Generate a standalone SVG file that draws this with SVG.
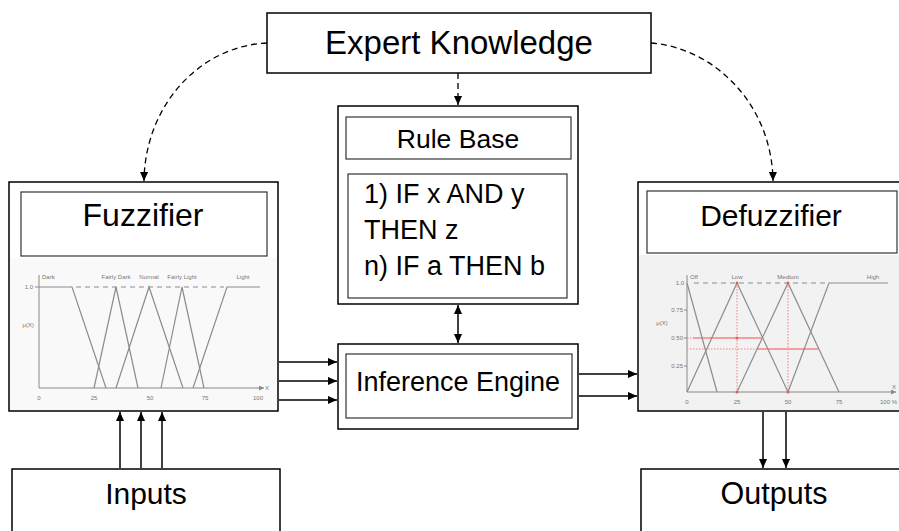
<svg xmlns="http://www.w3.org/2000/svg" width="899" height="531" viewBox="0 0 899 531">
  <defs>
    <marker id="arrow" viewBox="0 0 10 10" refX="10" refY="5" markerWidth="9" markerHeight="9" markerUnits="userSpaceOnUse" orient="auto">
      <path d="M0,0.5 L10,5 L0,9.5 z" fill="#000"/>
    </marker>
    <marker id="arrowStart" viewBox="0 0 10 10" refX="0" refY="5" markerWidth="9" markerHeight="9" markerUnits="userSpaceOnUse" orient="auto">
      <path d="M10,0.5 L0,5 L10,9.5 z" fill="#000"/>
    </marker>
    <marker id="tinyArrow" viewBox="0 0 10 10" refX="10" refY="5" markerWidth="5" markerHeight="5" markerUnits="userSpaceOnUse" orient="auto">
      <path d="M0,0 L10,5 L0,10 z" fill="#888"/>
    </marker>
  </defs>
  <style>
    .outer { fill: #fff; stroke: #000; stroke-width: 1.5; }
    .inner { fill: #fff; stroke: #333; stroke-width: 1.2; }
    .label { font-family: "Liberation Sans", Arial, sans-serif; fill: #000; }
    .conn { fill: none; stroke: #000; stroke-width: 1.5; }
    .dashed { fill: none; stroke: #000; stroke-width: 1.3; stroke-dasharray: 6 4; }
    .axis { fill: none; stroke: #888; stroke-width: 1; }
    .mf { fill: none; stroke: #8c8c8c; stroke-width: 1.2; }
    .mfdash { fill: none; stroke: #8c8c8c; stroke-width: 1.2; stroke-dasharray: 5 4; }
    .tiny { font-family: "Liberation Sans", Arial, sans-serif; font-size: 6px; fill: #777; }
    .reddot { fill: none; stroke: #f08080; stroke-width: 1; stroke-dasharray: 1.5 1.5; }
    .redsolid { fill: none; stroke: #f4a0a0; stroke-width: 2; }
  </style>

  <rect width="899" height="531" fill="#fff"/>

  <!-- Expert Knowledge -->
  <g id="expert-knowledge">
    <rect class="outer" x="267" y="13" width="384" height="60"/>
    <text class="label" x="459" y="54" font-size="33" text-anchor="middle">Expert Knowledge</text>
  </g>

  <!-- Rule Base -->
  <g id="rule-base">
    <rect class="outer" x="338" y="106" width="240" height="198"/>
    <rect class="inner" x="346" y="117" width="225" height="42"/>
    <text class="label" x="458" y="148" font-size="26.5" text-anchor="middle">Rule Base</text>
    <rect class="inner" x="348" y="174" width="219" height="124"/>
    <text class="label" x="364" y="203" font-size="27">1) IF x AND y</text>
    <text class="label" x="364" y="239" font-size="27">THEN z</text>
    <text class="label" x="364" y="275" font-size="27">n) IF a THEN b</text>
  </g>

  <!-- Inference Engine -->
  <g id="inference-engine">
    <rect class="outer" x="338" y="344" width="240" height="85"/>
    <rect class="inner" x="346" y="354" width="226" height="64"/>
    <text class="label" x="458" y="391" font-size="27" text-anchor="middle">Inference Engine</text>
  </g>

  <!-- Fuzzifier with input membership functions -->
  <g id="fuzzifier">
    <rect class="outer" x="9" y="182" width="269" height="229"/>
    <rect class="inner" x="21" y="192" width="246" height="64"/>
    <text class="label" x="143" y="226" font-size="32" text-anchor="middle">Fuzzifier</text>
    <rect x="10" y="258" width="267" height="152" fill="#f9f9f9"/>
    <g id="fuzzifier-chart">
      <line class="axis" x1="39" y1="275" x2="39" y2="388"/>
      <line class="axis" x1="39" y1="388" x2="264" y2="388" marker-end="url(#tinyArrow)"/>
      <line class="axis" x1="35" y1="287" x2="39" y2="287"/>
      <polyline class="mf" points="39,287 72,287 106,388"/>
      <polyline class="mf" points="94,388 116,287 138,388"/>
      <polyline class="mf" points="116,388 149,287 183,388"/>
      <polyline class="mf" points="161,388 182,287 204,388"/>
      <polyline class="mf" points="193,388 227,287 260,287"/>
      <line class="mfdash" x1="76" y1="287" x2="224" y2="287"/>
      <text class="tiny" x="42" y="279">Dark</text>
      <text class="tiny" x="116" y="279" text-anchor="middle">Fairly Dark</text>
      <text class="tiny" x="149" y="279" text-anchor="middle">Normal</text>
      <text class="tiny" x="182" y="279" text-anchor="middle">Fairly Light</text>
      <text class="tiny" x="243" y="279" text-anchor="middle">Light</text>
      <text class="tiny" x="33" y="289" text-anchor="end">1.0</text>
      <text class="tiny" x="34" y="327" text-anchor="end">μ(X)</text>
      <text class="tiny" x="39" y="400" text-anchor="middle">0</text>
      <text class="tiny" x="94" y="400" text-anchor="middle">25</text>
      <text class="tiny" x="150" y="400" text-anchor="middle">50</text>
      <text class="tiny" x="205" y="400" text-anchor="middle">75</text>
      <text class="tiny" x="258" y="400" text-anchor="middle">100</text>
      <text class="tiny" x="265" y="390" font-size="8">X</text>
    </g>
  </g>

  <!-- Defuzzifier with output membership functions -->
  <g id="defuzzifier">
    <rect class="outer" x="638" y="182" width="270" height="229"/>
    <rect class="inner" x="647" y="191" width="250" height="62"/>
    <text class="label" x="771" y="226" font-size="30" text-anchor="middle">Defuzzifier</text>
    <rect x="639" y="255" width="260" height="155" fill="#f2f2f2"/>
    <g id="defuzzifier-chart">
      <line class="axis" x1="687" y1="275" x2="687" y2="392"/>
      <line class="axis" x1="687" y1="392" x2="896" y2="392" marker-end="url(#tinyArrow)"/>
      <line class="axis" x1="684" y1="310" x2="687" y2="310"/>
      <line class="axis" x1="684" y1="338" x2="687" y2="338"/>
      <line class="axis" x1="684" y1="366" x2="687" y2="366"/>
      <line class="reddot" x1="737" y1="283" x2="737" y2="392"/>
      <line class="reddot" x1="788" y1="283" x2="788" y2="392"/>
      <line class="reddot" x1="687" y1="338" x2="762" y2="338"/>
      <line class="reddot" x1="687" y1="349" x2="818" y2="349"/>
      <line class="redsolid" x1="693" y1="338" x2="762" y2="338"/>
      <line class="redsolid" x1="757" y1="349" x2="818" y2="349"/>
      <polyline class="mf" points="687,283 717,392"/>
      <polyline class="mf" points="687,392 737,283 788,392"/>
      <polyline class="mf" points="737,392 788,283 839,392"/>
      <polyline class="mf" points="788,392 829,283 888,283"/>
      <line class="mfdash" x1="694" y1="283" x2="828" y2="283"/>
      <g fill="#e06060">
        <circle cx="737" cy="283" r="1.5"/>
        <circle cx="788" cy="283" r="1.5"/>
        <circle cx="737" cy="338" r="1.5"/>
        <circle cx="737" cy="392" r="1.5"/>
        <circle cx="788" cy="392" r="1.5"/>
      </g>
      <text class="tiny" x="690" y="279">Off</text>
      <text class="tiny" x="737" y="279" text-anchor="middle">Low</text>
      <text class="tiny" x="788" y="279" text-anchor="middle">Medium</text>
      <text class="tiny" x="873" y="279" text-anchor="middle">High</text>
      <text class="tiny" x="684" y="285" text-anchor="end">1.0</text>
      <text class="tiny" x="683" y="312" text-anchor="end">0.75</text>
      <text class="tiny" x="683" y="340" text-anchor="end">0.50</text>
      <text class="tiny" x="683" y="368" text-anchor="end">0.25</text>
      <text class="tiny" x="662" y="325" text-anchor="middle">μ(X)</text>
      <text class="tiny" x="687" y="404" text-anchor="middle">0</text>
      <text class="tiny" x="737" y="404" text-anchor="middle">25</text>
      <text class="tiny" x="788" y="404" text-anchor="middle">50</text>
      <text class="tiny" x="839" y="404" text-anchor="middle">75</text>
      <text class="tiny" x="897" y="404" text-anchor="end">100 %</text>
      <text class="tiny" x="892" y="389" font-size="7">X</text>
    </g>
  </g>

  <!-- Inputs -->
  <g id="inputs">
    <rect class="outer" x="12" y="469" width="268" height="80"/>
    <text class="label" x="146" y="504" font-size="30" text-anchor="middle">Inputs</text>
  </g>

  <!-- Outputs -->
  <g id="outputs">
    <rect class="outer" x="641" y="469" width="270" height="80"/>
    <text class="label" x="774" y="504" font-size="30.5" text-anchor="middle">Outputs</text>
  </g>

  <!-- Connectors -->
  <g id="connectors">
    <path class="dashed" d="M267,43 C200,46 145,105 144,181" marker-end="url(#arrow)"/>
    <path class="dashed" d="M651,43 C715,48 772,105 773,181" marker-end="url(#arrow)"/>
    <line class="dashed" x1="458" y1="73" x2="458" y2="105" marker-end="url(#arrow)"/>
    <line class="conn" x1="458" y1="305" x2="458" y2="343" marker-start="url(#arrowStart)" marker-end="url(#arrow)"/>
    <line class="conn" x1="279" y1="362" x2="337" y2="362" marker-end="url(#arrow)"/>
    <line class="conn" x1="279" y1="381" x2="337" y2="381" marker-end="url(#arrow)"/>
    <line class="conn" x1="279" y1="400" x2="337" y2="400" marker-end="url(#arrow)"/>
    <line class="conn" x1="579" y1="374" x2="637" y2="374" marker-end="url(#arrow)"/>
    <line class="conn" x1="579" y1="396" x2="637" y2="396" marker-end="url(#arrow)"/>
    <line class="conn" x1="120" y1="468" x2="120" y2="412" marker-end="url(#arrow)"/>
    <line class="conn" x1="141" y1="468" x2="141" y2="412" marker-end="url(#arrow)"/>
    <line class="conn" x1="162" y1="468" x2="162" y2="412" marker-end="url(#arrow)"/>
    <line class="conn" x1="763" y1="412" x2="763" y2="468" marker-end="url(#arrow)"/>
    <line class="conn" x1="786" y1="412" x2="786" y2="468" marker-end="url(#arrow)"/>
  </g>
</svg>
